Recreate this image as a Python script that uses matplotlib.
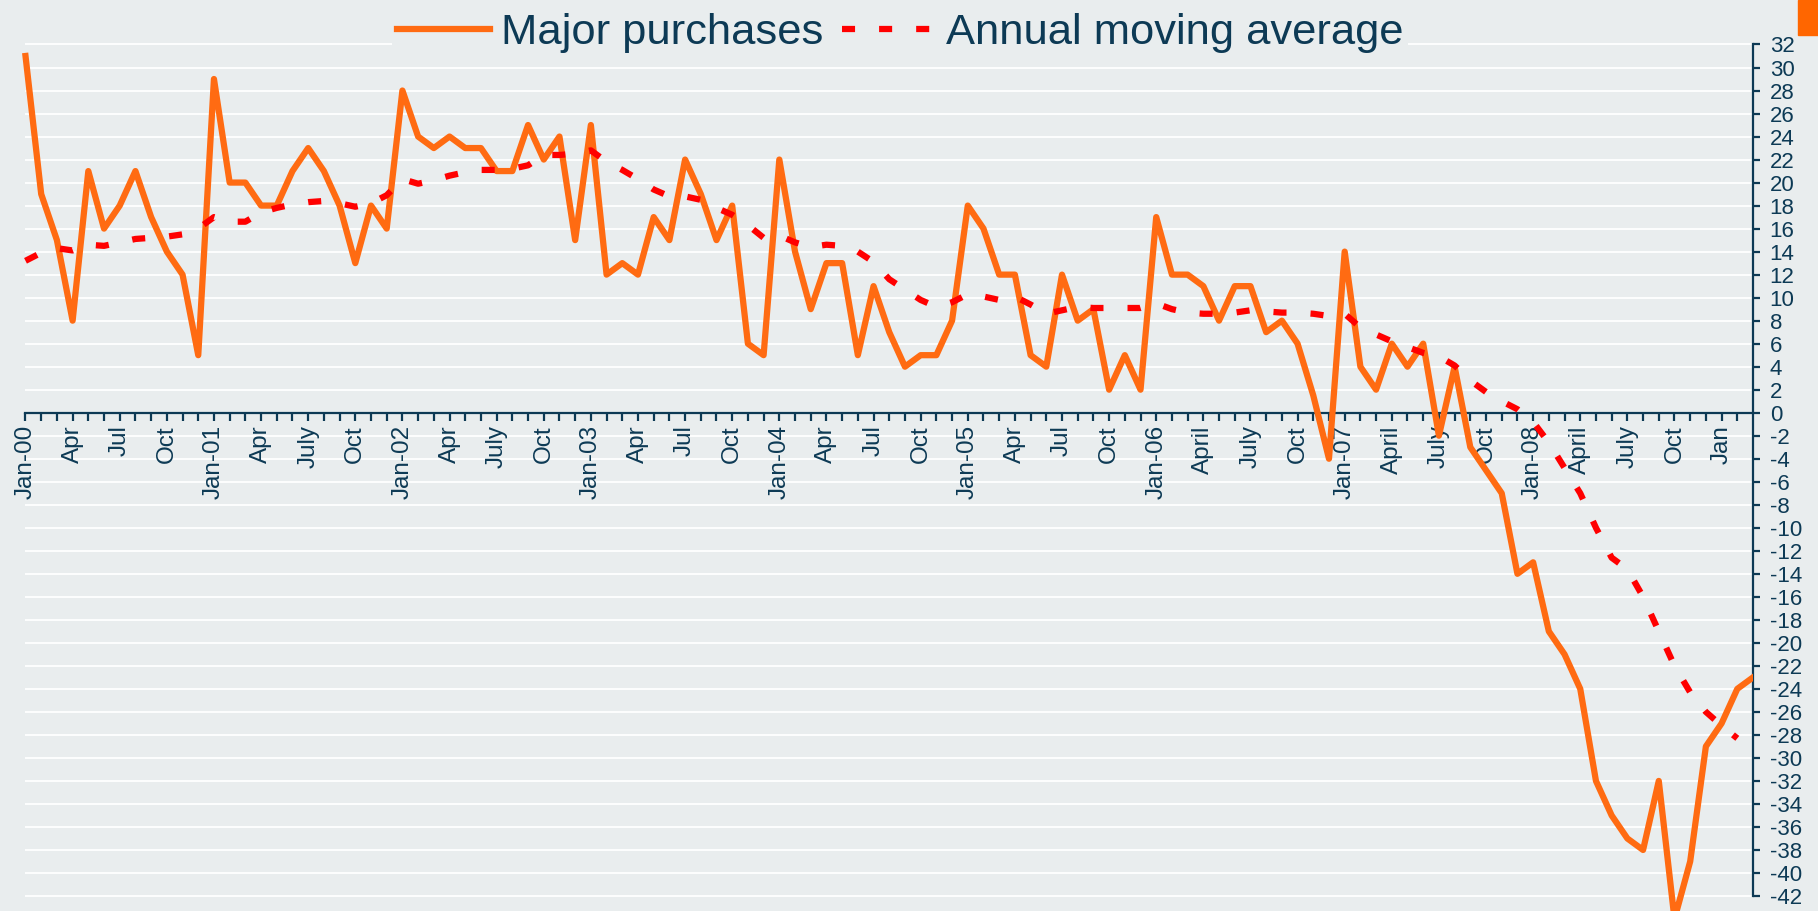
import numpy as np
import matplotlib
matplotlib.use("Agg")
import matplotlib.pyplot as plt
from matplotlib.patches import Rectangle

plt.rcParams['font.family'] = ['Liberation Sans', 'DejaVu Sans']
plt.rcParams['lines.scale_dashes'] = False

# monthly series, Jan-2000 .. Mar-2009
purchases = [31, 19, 15, 8, 21, 16, 18, 21, 17, 14, 12, 5,
             29, 20, 20, 18, 18, 21, 23, 21, 18, 13, 18, 16,
             28, 24, 23, 24, 23, 23, 21, 21, 25, 22, 24, 15,
             25, 12, 13, 12, 17, 15, 22, 19, 15, 18, 6, 5,
             22, 14, 9, 13, 13, 5, 11, 7, 4, 5, 5, 8,
             18, 16, 12, 12, 5, 4, 12, 8, 9, 2, 5, 2,
             17, 12, 12, 11, 8, 11, 11, 7, 8, 6, 1.5, -4,
             14, 4, 2, 6, 4, 6, -2, 4, -3, -5, -7, -14,
             -13, -19, -21, -24, -32, -35, -37, -38, -32, -44, -39, -29,
             -27, -24, -23]

moving_avg = [13.2, 13.9, 14.3, 14.1, 14.6, 14.5, 14.8, 15.1, 15.2, 15.3, 15.5, 16.0,
              17.0, 16.6, 16.6, 17.4, 17.8, 18.1, 18.3, 18.4, 18.2, 17.9, 18.2, 18.9,
              20.3, 19.9, 20.2, 20.6, 20.9, 21.1, 21.1, 21.2, 21.5, 22.4, 22.4, 22.5,
              22.8, 21.8, 21.1, 20.3, 19.4, 18.8, 18.8, 18.5, 17.8, 17.2, 16.3, 15.2,
              15.4, 14.8, 14.4, 14.6, 14.5, 14.0, 13.1, 11.6, 10.7, 9.8, 9.2, 9.6,
              10.3, 10.1, 9.8, 10.1, 9.4, 8.6, 8.9, 9.2, 9.1, 9.1, 9.1, 9.1,
              9.5, 9.0, 8.7, 8.6, 8.6, 8.7, 8.9, 8.8, 8.7, 8.7, 8.6, 8.4,
              8.6, 7.4, 6.8, 6.2, 5.7, 5.2, 4.9, 4.1, 2.8, 1.8, 1.0, 0.3,
              -0.8, -2.6, -4.8, -7.0, -10.0, -12.6, -13.6, -16.0, -19.0, -22.0, -24.3, -26.0,
              -27.2, -28.3]

quarter_labels = ['Jan-00', 'Apr', 'Jul', 'Oct',
                  'Jan-01', 'Apr', 'July', 'Oct',
                  'Jan-02', 'Apr', 'July', 'Oct',
                  'Jan-03', 'Apr', 'Jul', 'Oct',
                  'Jan-04', 'Apr', 'Jul', 'Oct',
                  'Jan-05', 'Apr', 'Jul', 'Oct',
                  'Jan-06', 'April', 'July', 'Oct',
                  'Jan-07', 'April', 'July', 'Oct',
                  'Jan-08', 'April', 'July', 'Oct',
                  'Jan']

y_ticks = list(range(-42, 33, 2))

months = np.arange(len(purchases))
bg = '#E9EDEE'
navy = '#0D3A55'
orange = '#FF6B12'

fig = plt.figure(figsize=(18.18, 9.11), dpi=100, facecolor=bg)
ax = fig.add_axes([0, 0, 1753 / 1818, 1])
ax.set_facecolor(bg)

ax.set_xlim(-25.5 / 15.705, months[-1])
ax.set_ylim(-42 - 15 / 11.51, 32 + 44.5 / 11.51)

ax.hlines(y_ticks, 0, months[-1], color='white', linewidth=1.3, zorder=0)

ax.plot(months, purchases, color=orange, linewidth=4.5, zorder=3,
        label='Major purchases')
ax.plot(months[:len(moving_avg)], moving_avg, color='#FF0000', linewidth=4.5,
        dashes=(9.4, 17.3), dash_capstyle='butt', zorder=4,
        label='Annual moving average')

# axes
for s in ['left', 'top']:
    ax.spines[s].set_visible(False)
ax.spines['bottom'].set_position(('data', 0))
ax.spines['bottom'].set_bounds(0, months[-1])
ax.spines['right'].set_bounds(-42, 32)
for s in ['bottom', 'right']:
    ax.spines[s].set_color(navy)
    ax.spines[s].set_linewidth(1.6)

tick_labels = [''] * len(months)
for i, lab in enumerate(quarter_labels):
    tick_labels[i * 3] = lab
ax.set_xticks(months[:-1])
ax.set_xticklabels(tick_labels[:-1], rotation=90, fontsize=17.5, color=navy)
ax.tick_params(axis='x', direction='out', length=6, width=1.6, color=navy, pad=3)

ax.yaxis.tick_right()
ax.set_yticks(y_ticks)
ax.set_yticklabels([str(v) for v in y_ticks], fontsize=16, color=navy)
ax.tick_params(axis='y', direction='out', length=5, width=1.6, color=navy, pad=7)

fig.legend(*ax.get_legend_handles_labels(), loc='upper center',
           bbox_to_anchor=(900 / 1818, 1 - 9 / 911), ncol=2, fontsize=31.3,
           frameon=True, facecolor=bg, edgecolor='none', framealpha=1,
           fancybox=False, borderpad=0.1, handlelength=2.15,
           handletextpad=0.25, columnspacing=0.42, borderaxespad=0,
           labelcolor=navy)

fig.patches.append(Rectangle((1798 / 1818, 1 - 35 / 911), 20 / 1818, 35 / 911,
                             transform=fig.transFigure, color='#FF6600'))

fig.savefig('out.png', dpi=100, facecolor=bg)
